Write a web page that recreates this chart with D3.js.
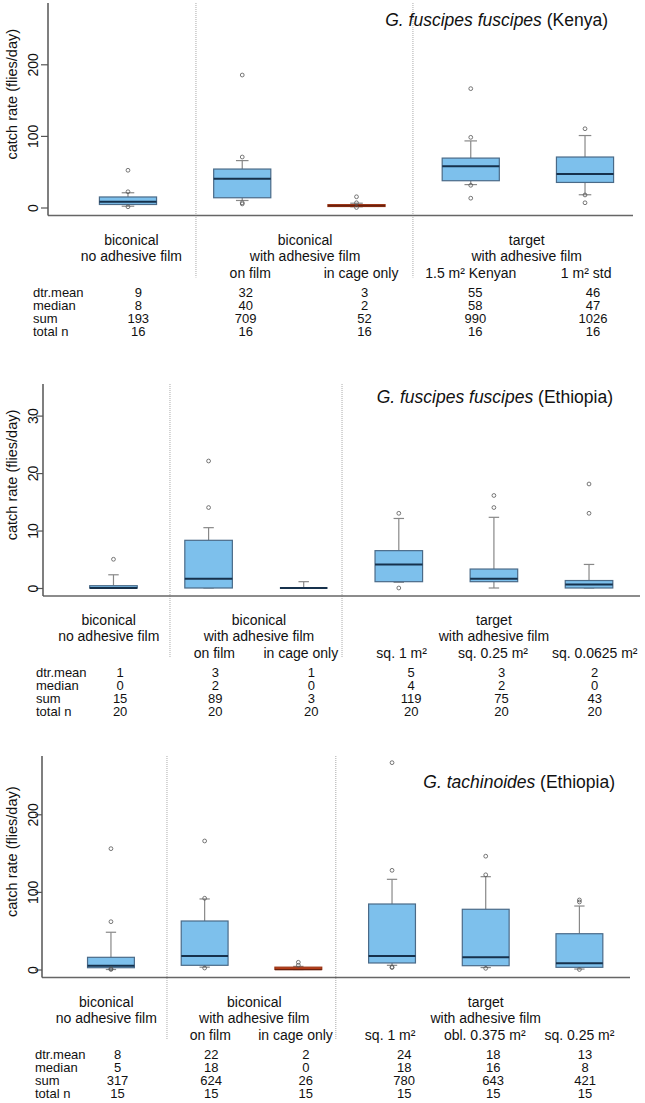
<!DOCTYPE html>
<html>
<head>
<meta charset="utf-8">
<script src="https://cdn.jsdelivr.net/npm/d3@7"></script>
<style>
  body { margin: 0; background: #fff; }
  text { font-family: "Liberation Sans", Arial, sans-serif; fill: #111; }
</style>
</head>
<body>
<div id="chart"></div>
<script>
// ---- data ----
// panel 1: G. fuscipes fuscipes (Kenya)
var kenyaLow = [1.8, 9.8, 1, 32, 17.8];
var kenyaQ1 = [4.2, 13.6, 1.4, 37.4, 35];
var kenyaMedian = [8, 40, 2.5, 57.5, 46.7];
var kenyaQ3 = [14.7, 53.7, 4, 69, 70.5];
var kenyaHigh = [20.6, 65.5, 6, 93, 100.5];
var kenyaOutliers = [[52, 22, 1], [185, 70.5, 6.6, 5], [15, 6.6, 0], [166, 98, 31, 13], [110, 17.5, 6.6]];
var kenyaTicks = [0, 100, 200];
var kenyaSub = ["on film", "in cage only", "1.5 m² Kenyan", "1 m² std"];
var kenyaDtrMean = [9, 32, 3, 55, 46];
var kenyaMed = [8, 40, 2, 58, 47];
var kenyaSum = [193, 709, 52, 990, 1026];
var kenyaN = [16, 16, 16, 16, 16];

// panel 2: G. fuscipes fuscipes (Ethiopia)
var ethLow = [0, 0, 0, 1.0, 0, 0];
var ethQ1 = [0, 0, 0, 1.1, 1.1, 0];
var ethMedian = [0, 1.6, 0, 4.1, 1.6, 0.6];
var ethQ3 = [0.4, 8.3, 0, 6.5, 3.3, 1.3];
var ethHigh = [2.3, 10.5, 1.1, 12.1, 12.3, 4.1];
var ethOutliers = [[5], [14, 22.1], [], [13, 0], [14, 16.1], [13, 18.1]];
var ethTicks = [0, 10, 20, 30];
var ethSub = ["on film", "in cage only", "sq. 1 m²", "sq. 0.25 m²", "sq. 0.0625 m²"];
var ethDtrMean = [1, 3, 1, 5, 3, 2];
var ethMed = [0, 2, 0, 4, 2, 0];
var ethSum = [15, 89, 3, 119, 75, 43];
var ethN = [20, 20, 20, 20, 20, 20];

// panel 3: G. tachinoides (Ethiopia)
var tachLow = [0, 3, 0, 5.4, 2.5, 0.6];
var tachQ1 = [2.3, 5.4, 0, 8.4, 4.9, 2.8];
var tachMedian = [4.9, 17.4, 0, 17.4, 15.7, 8];
var tachQ3 = [15.7, 62.5, 3, 84.4, 77.6, 46.1];
var tachHigh = [48, 90.9, 4, 116.2, 119.6, 81.8];
var tachOutliers = [[61.6, 155.7, 0, 1], [91.8, 165.6, 1.9], [9.3, 5.5], [127.8, 266.5, 3.2, 2.5], [122, 146, 1.5], [89.6, 87, 0]];
var tachTicks = [0, 100, 200];
var tachSub = ["on film", "in cage only", "sq. 1 m²", "obl. 0.375 m²", "sq. 0.25 m²"];
var tachDtrMean = [8, 22, 2, 24, 18, 13];
var tachMed = [5, 18, 0, 18, 16, 8];
var tachSum = [317, 624, 26, 780, 643, 421];
var tachN = [15, 15, 15, 15, 15, 15];

var groupTop = ["biconical", "biconical", "target"];
var groupBottom = ["no adhesive film", "with adhesive film", "with adhesive film"];
var statNames = ["dtr.mean", "median", "sum", "total n"];

// ---- layout ----
var svg = d3.select("#chart").append("svg")
  .attr("width", 645)
  .attr("height", 1103);

var panels = [
  {
    low: kenyaLow, q1: kenyaQ1, med: kenyaMedian, q3: kenyaQ3, high: kenyaHigh, out: kenyaOutliers,
    ticks: kenyaTicks, sub: kenyaSub, stats: [kenyaDtrMean, kenyaMed, kenyaSum, kenyaN],
    species: "G. fuscipes fuscipes", place: "(Kenya)", red: 2,
    top: 3, zero: 207.5, yMax: 285.6, left: 48, right: 633, posLeft: 0.3, posRight: 5.42,
    sep: [1.595, 3.494], groupPos: [1.03, 2.55, 4.49], subPos: [2.07, 3.04, 4.0, 5.01],
    statPos: [1.09, 2.03, 3.07, 4.04, 5.07], statX: 33, titleX: 608, titleY: 26
  },
  {
    low: ethLow, q1: ethQ1, med: ethMedian, q3: ethQ3, high: ethHigh, out: ethOutliers,
    ticks: ethTicks, sub: ethSub, stats: [ethDtrMean, ethMed, ethSum, ethN],
    species: "G. fuscipes fuscipes", place: "(Ethiopia)", red: -1,
    top: 384, zero: 588, yMax: 35.5, left: 43, right: 640, posLeft: 0.259, posRight: 6.536,
    sep: [1.594, 3.403], groupPos: [0.95, 2.53, 5.0], subPos: [2.06, 2.97, 4.03, 4.99, 6.06],
    statPos: [1.07, 2.07, 3.08, 4.13, 5.08, 6.06], statX: 36, titleX: 613, titleY: 403
  },
  {
    low: tachLow, q1: tachQ1, med: tachMedian, q3: tachQ3, high: tachHigh, out: tachOutliers,
    ticks: tachTicks, sub: tachSub, stats: [tachDtrMean, tachMed, tachSum, tachN],
    species: "G. tachinoides", place: "(Ethiopia)", red: 2,
    top: 756, zero: 969.5, yMax: 275.1, left: 42, right: 630, posLeft: 0.264, posRight: 6.54,
    sep: [1.598, 3.40], groupPos: [0.95, 2.53, 5.0], subPos: [2.06, 2.97, 3.98, 4.99, 6.0],
    statPos: [1.07, 2.07, 3.08, 4.13, 5.08, 6.06], statX: 35, titleX: 615, titleY: 788
  }
];

panels.forEach(function(p) {
  var x = d3.scaleLinear().domain([p.posLeft, p.posRight]).range([p.left, p.right]);
  var y = d3.scaleLinear().domain([0, p.yMax]).range([p.zero, p.top]);
  var bottom = p.zero + 8;
  var g = svg.append("g");

  // dotted separators, running down into the label area
  g.selectAll(".sep").data(p.sep).enter().append("line")
    .attr("x1", d => x(d)).attr("x2", d => x(d))
    .attr("y1", p.top).attr("y2", bottom + 62)
    .attr("stroke", "#aaa").attr("stroke-width", 1)
    .attr("stroke-dasharray", "1,1");

  // axes (bty = "l")
  g.append("line")
    .attr("x1", p.left).attr("x2", p.right)
    .attr("y1", bottom).attr("y2", bottom)
    .attr("stroke", "#666").attr("stroke-width", 1.3);
  g.append("line")
    .attr("x1", p.left).attr("x2", p.left)
    .attr("y1", p.top).attr("y2", bottom)
    .attr("stroke", "#555").attr("stroke-width", 1.5);

  var axis = g.append("g")
    .attr("transform", `translate(${p.left},0)`)
    .call(d3.axisLeft(y).tickValues(p.ticks).tickSize(7).tickFormat(d3.format("d")));
  axis.select(".domain").remove();
  axis.selectAll(".tick line").attr("stroke", "#555").attr("stroke-width", 1.2);
  axis.selectAll(".tick text")
    .attr("x", 0).attr("dy", "0.36em")
    .attr("transform", `translate(${32.5 - p.left},0) rotate(-90)`)
    .attr("text-anchor", "middle")
    .attr("font-size", 14)
    .attr("font-family", "Liberation Sans, Arial, sans-serif")
    .attr("fill", "#222");

  g.append("text")
    .attr("transform", `translate(12,${(p.top + bottom) / 2 - 15}) rotate(-90)`)
    .attr("dy", "0.35em")
    .attr("text-anchor", "middle")
    .attr("font-size", 14.5)
    .text("catch rate (flies/day)");

  // title
  var t = g.append("text")
    .attr("x", p.titleX).attr("y", p.titleY)
    .attr("text-anchor", "end")
    .attr("font-size", 17.5);
  t.append("tspan").attr("font-style", "italic").text(p.species);
  t.append("tspan").text(" " + p.place);

  // boxes
  var idx = d3.range(p.med.length);
  var bw = 0.25, cw = 0.055;
  var box = g.selectAll(".box").data(idx).enter().append("g");

  box.append("line")
    .attr("x1", i => x(i + 1)).attr("x2", i => x(i + 1))
    .attr("y1", i => y(p.q3[i])).attr("y2", i => y(p.high[i]))
    .attr("stroke", "#888").attr("stroke-width", 1.2);
  box.append("line")
    .attr("x1", i => x(i + 1)).attr("x2", i => x(i + 1))
    .attr("y1", i => y(p.q1[i])).attr("y2", i => y(p.low[i]))
    .attr("stroke", "#888").attr("stroke-width", 1.2);
  box.append("line")
    .attr("x1", i => x(i + 1 - cw)).attr("x2", i => x(i + 1 + cw))
    .attr("y1", i => y(p.high[i])).attr("y2", i => y(p.high[i]))
    .attr("stroke", "#888").attr("stroke-width", 1.2);
  box.append("line")
    .attr("x1", i => x(i + 1 - cw)).attr("x2", i => x(i + 1 + cw))
    .attr("y1", i => y(p.low[i])).attr("y2", i => y(p.low[i]))
    .attr("stroke", "#888").attr("stroke-width", 1.2);

  box.append("rect")
    .attr("x", i => x(i + 1 - bw))
    .attr("width", i => x(i + 1 + bw) - x(i + 1 - bw))
    .attr("y", i => y(p.q3[i]))
    .attr("height", i => Math.max(0, y(p.q1[i]) - y(p.q3[i])))
    .attr("fill", i => i === p.red ? "#d2461c" : "#7dc0ec")
    .attr("stroke", i => i === p.red ? "#9a3414" : "#4a6a88")
    .attr("stroke-width", 1.2);

  box.append("line")
    .attr("x1", i => x(i + 1 - bw)).attr("x2", i => x(i + 1 + bw))
    .attr("y1", i => y(p.med[i])).attr("y2", i => y(p.med[i]))
    .attr("stroke", i => i === p.red ? "#6a200c" : "#16314c")
    .attr("stroke-width", i => i === p.red ? 1.5 : 2);

  box.each(function(i) {
    d3.select(this).selectAll("circle").data(p.out[i]).enter().append("circle")
      .attr("cx", x(i + 1))
      .attr("cy", d => y(d))
      .attr("r", 1.9)
      .attr("fill", "none")
      .attr("stroke", "#555")
      .attr("stroke-width", 0.8);
  });

  // labels under the plot
  g.selectAll(".gtop").data(groupTop).enter().append("text")
    .attr("x", (d, i) => x(p.groupPos[i])).attr("y", bottom + 29)
    .attr("text-anchor", "middle").attr("font-size", 14).text(d => d);
  g.selectAll(".gbot").data(groupBottom).enter().append("text")
    .attr("x", (d, i) => x(p.groupPos[i])).attr("y", bottom + 45)
    .attr("text-anchor", "middle").attr("font-size", 14).text(d => d);
  g.selectAll(".sub").data(p.sub).enter().append("text")
    .attr("x", (d, i) => x(p.subPos[i])).attr("y", bottom + 62)
    .attr("text-anchor", "middle").attr("font-size", 14).text(d => d);

  // summary table
  statNames.forEach(function(name, r) {
    var yy = bottom + 81 + r * 13;
    g.append("text").attr("x", p.statX).attr("y", yy)
      .attr("font-size", 13).text(name);
    g.selectAll(".st" + r).data(p.stats[r]).enter().append("text")
      .attr("x", (d, i) => x(p.statPos[i])).attr("y", yy)
      .attr("text-anchor", "middle").attr("font-size", 13).text(d => d);
  });
});
</script>
</body>
</html>
